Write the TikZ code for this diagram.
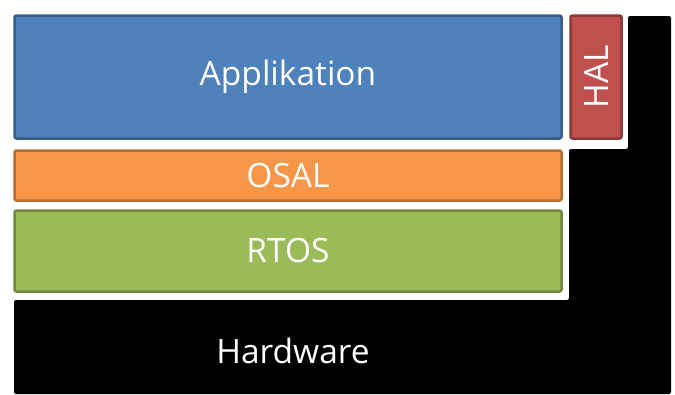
\documentclass[tikz,border=0pt]{standalone}
\usepackage{fontspec}
\setmainfont{Open Sans}
\definecolor{appfill}{HTML}{4F81BD}
\definecolor{appdraw}{HTML}{385D8A}
\definecolor{osalfill}{HTML}{F79646}
\definecolor{osaldraw}{HTML}{B66D31}
\definecolor{rtosfill}{HTML}{9BBB59}
\definecolor{rtosdraw}{HTML}{71893F}
\definecolor{halfill}{HTML}{C0504D}
\definecolor{haldraw}{HTML}{8C3836}
\tikzset{
  layer/.style={rectangle, rounded corners=2pt, line width=2.5pt, text=white,
    font=\fontsize{33.5}{33.5}\selectfont, inner sep=0pt, anchor=center},
}
\begin{document}
\begin{tikzpicture}[x=1pt,y=-1pt]
\useasboundingbox (0,0) rectangle (675,394);
\fill[white] (0,0) rectangle (675,394);
% hardware L-shape
\fill[black, rounded corners=2pt] (14,394) -- (14,300) -- (569,300) -- (569,149) -- (628,149) -- (628,16) -- (671,16) -- (671,394) -- cycle;
\node[text=white, font=\fontsize{33.5}{33.5}\selectfont] (hw) at (293,351) {Hardware};
\node[layer, fill=appfill, draw=appdraw, minimum width=547pt, minimum height=123pt] (app) at (288,77) {Applikation};
\node[layer, fill=osalfill, draw=osaldraw, minimum width=547pt, minimum height=50pt] (osal) at (288,175.5) {OSAL};
\node[layer, fill=rtosfill, draw=rtosdraw, minimum width=547pt, minimum height=81pt] (rtos) at (288,251) {RTOS};
\node[layer, fill=halfill, draw=haldraw, minimum width=123pt, minimum height=51pt, rotate=90] (hal) at (596,77) {HAL};
\end{tikzpicture}
\end{document}
